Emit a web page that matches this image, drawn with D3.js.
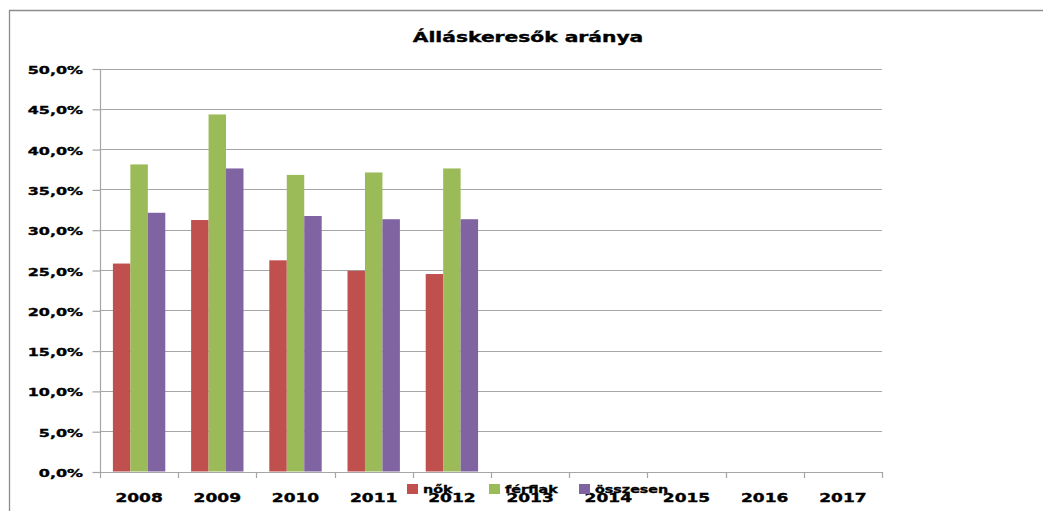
<!DOCTYPE html>
<html>
<head>
<meta charset="utf-8">
<script src="https://cdn.jsdelivr.net/npm/d3@7"></script>
<style>
  html, body { margin: 0; padding: 0; background: #fff; }
  svg { display: block; }
  text { font-family: "DejaVu Sans", Verdana, sans-serif; font-weight: bold; fill: #000; stroke: #000; stroke-width: 0.35px; }
</style>
</head>
<body>
<svg id="chart" width="1043" height="511"></svg>
<script>
// ---- data ----
const title = "Álláskeresők aránya";
const categories = ["2008","2009","2010","2011","2012","2013","2014","2015","2016","2017"];
const seriesNames = ["nők", "férfiak", "összesen"];
const nok      = [25.8, 31.2, 26.2, 24.9, 24.5, null, null, null, null, null];
const ferfiak  = [38.1, 44.3, 36.8, 37.1, 37.6, null, null, null, null, null];
const osszesen = [32.1, 37.6, 31.7, 31.3, 31.3, null, null, null, null, null];
const yTicks = [0, 5, 10, 15, 20, 25, 30, 35, 40, 45, 50];
const colors = ["#C0504D", "#9BBB59", "#8064A2"];

const seriesValues = [nok, ferfiak, osszesen];

// ---- layout ----
const W = 1043, H = 511;
const plot = { left: 100, right: 882, top: 68.5, bottom: 471.5 };
const SX = 1.42; // horizontal text stretch
const gridColor = "#a6a6a6";

const svg = d3.select("#chart");

// outer border
svg.append("path")
  .attr("d", `M9.5,${H + 5} V10.5 H${W + 5}`)
  .attr("fill", "none").attr("stroke", "#8c8c8c").attr("stroke-width", 1.3);

const x = d3.scaleBand().domain(categories).range([plot.left, plot.right]).padding(0);
const groupPad = x.bandwidth() * 0.165;
const xs = d3.scaleBand().domain(seriesNames).range([groupPad, x.bandwidth() - groupPad]).padding(0);
const y = d3.scaleLinear().domain([0, 50]).range([plot.bottom, plot.top]);

function stretchedText(sel, tx, ty, str, anchor, size, sx) {
  const g = sel.append("g").attr("transform", `translate(${tx},${ty}) scale(${sx || SX},1)`);
  g.append("text").attr("text-anchor", anchor).attr("font-size", size).text(str);
  return g;
}

// gridlines
svg.append("g").selectAll("line").data(yTicks.filter(d => d > 0)).join("line")
  .attr("x1", plot.left).attr("x2", plot.right)
  .attr("y1", d => Math.round(y(d)) + 0.5).attr("y2", d => Math.round(y(d)) + 0.5)
  .attr("stroke", gridColor).attr("stroke-width", 1.2);

// bars
const gBars = svg.append("g");
seriesNames.forEach((name, si) => {
  gBars.append("g").selectAll("rect")
    .data(categories.map((c, i) => ({ c, v: seriesValues[si][i] })).filter(d => d.v != null))
    .join("rect")
    .attr("x", d => x(d.c) + xs(name))
    .attr("width", xs.bandwidth())
    .attr("y", d => y(d.v))
    .attr("height", d => y(0) - y(d.v))
    .attr("fill", colors[si]);
});

// y axis line + ticks
const yAxis = d3.axisLeft(y).tickValues(yTicks).tickSize(8).tickFormat("");
const gy = svg.append("g").attr("transform", `translate(${plot.left + 0.5},0.5)`).call(yAxis);
gy.select(".domain").attr("stroke", gridColor).attr("stroke-width", 1.2).attr("d", `M0,${plot.top} V${plot.bottom}`);
gy.selectAll(".tick line").attr("stroke", gridColor).attr("stroke-width", 1.2);
yTicks.forEach(t => {
  stretchedText(svg, 83, y(t) + 5.5, d3.format(".1f")(t).replace(".", ",") + "%", "end", 11, 1.45);
});

// x axis line + ticks at band boundaries
const xAxisG = svg.append("g");
xAxisG.append("line").attr("x1", plot.left).attr("x2", plot.right)
  .attr("y1", Math.round(y(0)) + 0.5).attr("y2", Math.round(y(0)) + 0.5)
  .attr("stroke", gridColor).attr("stroke-width", 1.2);
const boundaries = categories.map(c => x(c)).concat([x(categories[categories.length - 1]) + x.bandwidth()]);
xAxisG.selectAll(".xt").data(boundaries).join("line")
  .attr("x1", d => Math.round(d) + 0.5).attr("x2", d => Math.round(d) + 0.5)
  .attr("y1", Math.round(y(0))).attr("y2", Math.round(y(0)) + 6)
  .attr("stroke", gridColor).attr("stroke-width", 1.2);
categories.forEach(c => {
  stretchedText(svg, x(c) + x.bandwidth() / 2, 502, c, "middle", 12);
});

// title
stretchedText(svg, 528, 42, title, "middle", 13.5, 1.5);

// legend (overlapping x labels as in the original)
const legendX = [407, 489, 579];
seriesNames.forEach((name, i) => {
  svg.append("rect").attr("x", legendX[i]).attr("y", 484).attr("width", 11).attr("height", 10).attr("fill", colors[i]);
  stretchedText(svg, legendX[i] + 16, 493, name, "start", 11, 1.3);
});
</script>
</body>
</html>
